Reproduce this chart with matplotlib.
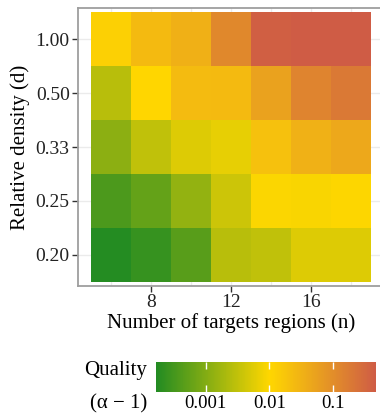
import numpy as np
import matplotlib
matplotlib.use("Agg")
import matplotlib.pyplot as plt
from matplotlib.colors import LinearSegmentedColormap, LogNorm

# donnees (log10 de la qualite alpha-1)
n_vals = [6, 8, 10, 12, 14, 16, 18]
d_labels = ["0.20", "0.25", "0.33", "0.50", "1.00"]
log_q_020 = [-3.76, -3.61, -3.34, -2.57, -2.50, -2.28, -2.28]
log_q_025 = [-3.43, -3.25, -2.87, -2.41, -2.03, -2.05, -2.02]
log_q_033 = [-2.93, -2.51, -2.27, -2.19, -1.70, -1.48, -1.36]
log_q_050 = [-2.57, -1.99, -1.62, -1.60, -1.28, -0.88, -0.73]
log_q_100 = [-1.90, -1.60, -1.47, -0.93, -0.37, -0.33, -0.33]
q_min = 1.66e-4
q_max = 0.47
cbar_ticks = [0.001, 0.01, 0.1]
cbar_labels = ["0.001", "0.01", "0.1"]

plt.rcParams['font.family'] = ['Liberation Serif', 'DejaVu Serif']

Z = 10 ** np.array([log_q_020, log_q_025, log_q_033, log_q_050, log_q_100])

# vert -> jaune (a 0.01) -> rouge
lo, hi = np.log10(q_min), np.log10(q_max)
mid = (np.log10(0.01) - lo) / (hi - lo)
cmap = LinearSegmentedColormap.from_list(
    "qual", [(0.0, "#228B22"), (mid, "#FFD700"), (1.0, "#CF5C45")])
norm = LogNorm(vmin=q_min, vmax=q_max)

W, H = 380, 413
fig = plt.figure(figsize=(W / 100, H / 100), dpi=100)
ax = fig.add_axes([78 / W, (H - 286) / H, (384 - 78) / W, (286 - 8) / H])

xedges = np.concatenate([[n_vals[0] - 1], np.array(n_vals) + 1])
yedges = np.arange(len(d_labels) + 1) - 0.5
mesh = ax.pcolormesh(xedges, yedges, Z, cmap=cmap, norm=norm, zorder=2)

ax.set_xlim(n_vals[0] - 1.65, n_vals[-1] + 1.65)
ax.set_ylim(-0.58, len(d_labels) - 0.42)
ax.set_xticks([8, 12, 16])
ax.set_xticks([6, 10, 14, 18], minor=True)
ax.set_yticks(range(len(d_labels)))
ax.set_yticklabels(d_labels)
ax.grid(True, which='both', color='#EBEBEB', lw=1, zorder=0)
ax.tick_params(which='major', length=4, width=1, color='#333333',
               labelsize=14, labelcolor='#222222', pad=2)
ax.tick_params(which='minor', length=0)
for s in ax.spines.values():
    s.set_color('#9E9E9E')
    s.set_linewidth(1.3)
ax.set_xlabel("Number of targets regions (n)", fontsize=15, labelpad=1)
ax.set_ylabel("Relative density (d)", fontsize=15, labelpad=4)

# legende
cax = fig.add_axes([156 / W, (H - 392) / H, (376 - 156) / W, 30 / H])
cb = fig.colorbar(mesh, cax=cax, orientation='horizontal')
cb.outline.set_visible(False)
cb.set_ticks(cbar_ticks)
cb.set_ticklabels(cbar_labels)
cb.minorticks_off()
cax.tick_params(direction='in', color='white', length=5, width=1,
                top=True, bottom=True, labelsize=13.5, pad=2)
fig.text(147 / W, 1 - 370 / H, "Quality", ha='right', va='center', fontsize=15)
fig.text(147 / W, 1 - 404 / H, "(α − 1)", ha='right', va='center', fontsize=15)

plt.savefig("out.png", dpi=100)
